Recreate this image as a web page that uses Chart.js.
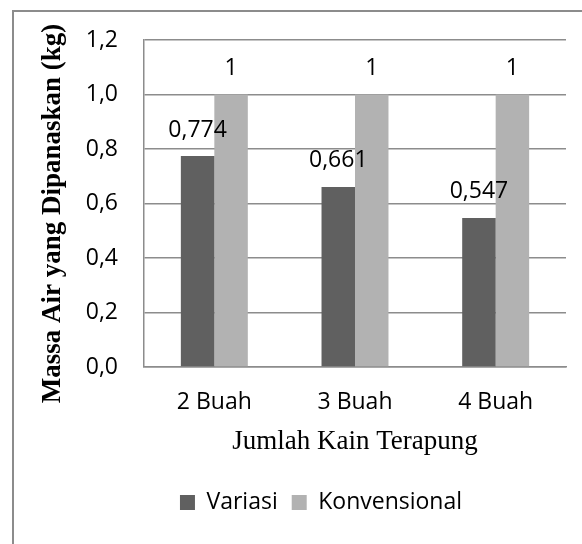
<!DOCTYPE html>
<html lang="id">
<head>
<meta charset="UTF-8">
<title>Massa Air yang Dipanaskan</title>
<style>
  html, body { margin: 0; padding: 0; background: #fff; overflow: hidden; }
  .frame {
    position: absolute; left: 12px; top: 10px;
    width: 700px; height: 700px;
    border: 2px solid #8c8c8c;
  }
  #chart { position: absolute; left: 0; top: 0; }
</style>
</head>
<body>
<div class="frame"></div>
<canvas id="chart" width="582" height="544"></canvas>

<script src="https://cdn.jsdelivr.net/npm/chart.js"></script>
<script>
const categories = ['2 Buah', '3 Buah', '4 Buah'];
const variasi = [0.774, 0.661, 0.547];
const konvensional = [1, 1, 1];
const seriesNames = ['Variasi', 'Konvensional'];
const yTitle = 'Massa Air yang Dipanaskan (kg)';
const xTitle = 'Jumlah Kain Terapung';

const tickFont = { family: 'Open Sans', size: 23 };
const gridColor = '#8c8c8c';

const commaNum = (v, digits) => {
  const s = digits === undefined ? String(v) : Number(v).toFixed(digits);
  return s.replace('.', ',');
};

// angka di atas batang
const valueLabels = {
  id: 'valueLabels',
  afterDatasetsDraw(chart) {
    const ctx = chart.ctx;
    ctx.save();
    ctx.font = '23px "Open Sans"';
    ctx.fillStyle = '#000';
    ctx.textAlign = 'center';
    ctx.textBaseline = 'middle';
    chart.data.datasets.forEach((ds, i) => {
      chart.getDatasetMeta(i).data.forEach((bar, j) => {
        ctx.fillText(commaNum(ds.data[j]), bar.x, bar.y - 26);
      });
    });
    ctx.restore();
  }
};

// judul sumbu Y, sedikit lebih rendah dari tengah seperti aslinya
const yAxisTitle = {
  id: 'yAxisTitle',
  afterDraw(chart) {
    const { ctx, chartArea } = chart;
    ctx.save();
    ctx.translate(53, (chartArea.top + chartArea.bottom) / 2 + 10);
    ctx.rotate(-Math.PI / 2);
    ctx.font = 'bold 27px "Liberation Serif"';
    ctx.fillStyle = '#000';
    ctx.textAlign = 'center';
    ctx.textBaseline = 'middle';
    ctx.fillText(yTitle, 0, 0);
    ctx.restore();
  }
};

// geser legenda sedikit ke kanan seperti aslinya
const legendShift = {
  id: 'legendShift',
  afterLayout(chart) {
    chart.legend.left += 38;
    chart.legend.right += 38;
  }
};

new Chart(document.getElementById('chart'), {
  type: 'bar',
  data: {
    labels: categories,
    datasets: [{
      label: seriesNames[0],
      data: variasi,
      backgroundColor: '#606060'
    }, {
      label: seriesNames[1],
      data: konvensional,
      backgroundColor: '#b2b2b2'
    }]
  },
  options: {
    responsive: false,
    animation: false,
    categoryPercentage: 0.476,
    barPercentage: 1,
    layout: { padding: { left: 0, right: 16, top: 40, bottom: 20 } },
    plugins: {
      tooltip: { enabled: false },
      legend: {
        position: 'bottom',
        labels: {
          font: tickFont,
          color: '#000',
          boxWidth: 15,
          boxHeight: 15,
          padding: 14
        }
      }
    },
    scales: {
      x: {
        afterFit(scale) { scale.height = 110; },
        grid: { display: false },
        border: { display: true, color: gridColor, width: 1.5 },
        ticks: { font: tickFont, color: '#000', padding: 14 },
        title: {
          display: true,
          text: xTitle,
          font: { family: 'Liberation Serif', size: 27 },
          color: '#000',
          padding: { top: 0, bottom: 19 }
        }
      },
      y: {
        min: 0,
        max: 1.2,
        afterFit(scale) { scale.width = 144; },
        grid: { color: gridColor, lineWidth: 1.5, drawTicks: false },
        border: { display: true, color: gridColor, width: 1.5 },
        ticks: {
          stepSize: 0.2,
          font: tickFont,
          color: '#000',
          padding: 26,
          callback: (v) => commaNum(v, 1)
        }
      }
    }
  },
  plugins: [valueLabels, yAxisTitle, legendShift]
});
</script>
</body>
</html>
